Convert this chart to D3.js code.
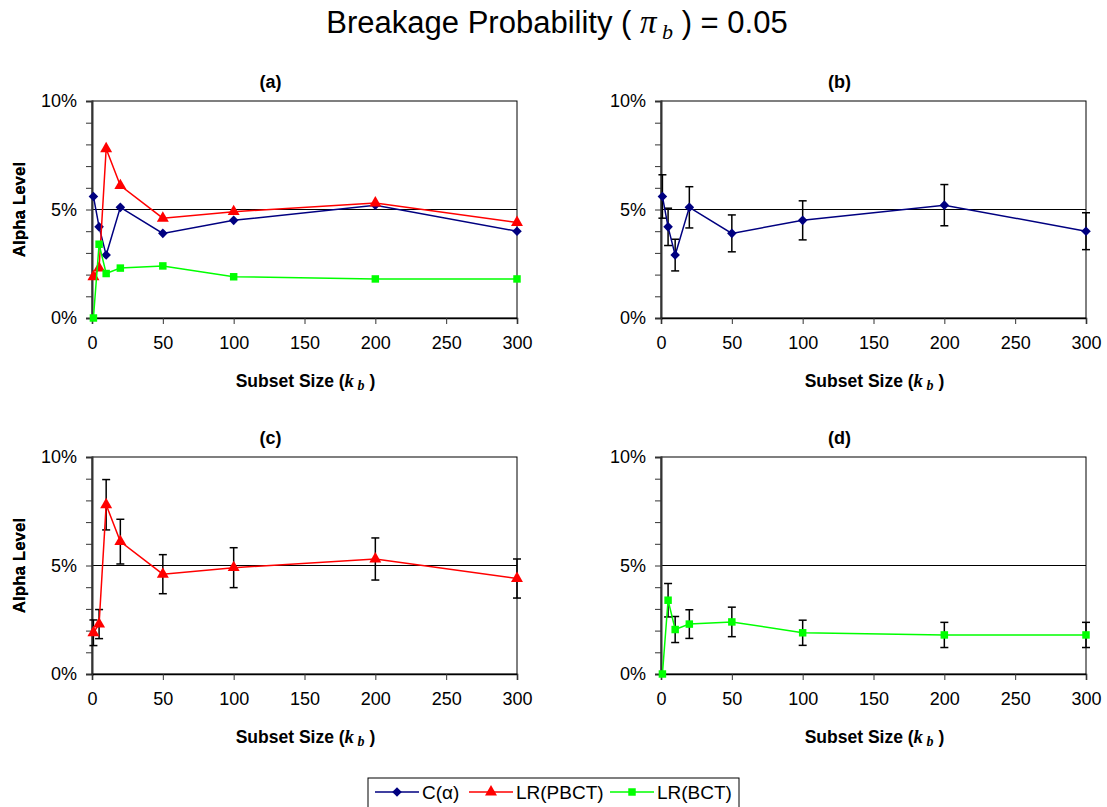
<!DOCTYPE html>
<html>
<head>
<meta charset="utf-8">
<script src="https://cdn.jsdelivr.net/npm/d3@7"></script>
<style>
  body { margin: 0; background: #fff; }
  text { font-family: "Liberation Sans", Arial, sans-serif; fill: #000; }
</style>
</head>
<body>
<div id="chart"></div>
<script>
// subset sizes (k_b)
const kValues = [1, 5, 10, 20, 50, 100, 200, 300];
// alpha level in percent
const cAlpha = [5.6, 4.2, 2.9, 5.1, 3.9, 4.5, 5.2, 4.0];
const lrPbct = [1.9, 2.3, 7.8, 6.1, 4.6, 4.9, 5.3, 4.4];
const lrBct = [0.0, 3.4, 2.05, 2.3, 2.4, 1.9, 1.8, 1.8];
// half-width of the error bars (percent)
const cAlphaErr = [1.0, 0.86, 0.73, 0.95, 0.85, 0.9, 0.95, 0.85];
const lrPbctErr = [0.59, 0.67, 1.16, 1.03, 0.9, 0.92, 0.97, 0.9];
const lrBctErr = [0, 0.77, 0.6, 0.66, 0.68, 0.58, 0.58, 0.58];

const xTicks = [0, 50, 100, 150, 200, 250, 300];
const yTicks = [0, 5, 10];

const ctx = { W: 1107, H: 807 };

const series = {
    c:   { name: "C(\u03b1)",  values: cAlpha, errs: cAlphaErr, color: "#000080", shape: "diamond" },
    pb:  { name: "LR(PBCT)", values: lrPbct, errs: lrPbctErr, color: "#ff0000", shape: "triangle" },
    bct: { name: "LR(BCT)",  values: lrBct,  errs: lrBctErr,  color: "#00ff00", shape: "square" }
};

const panels = [
    { label: "(a)", left: 92,  top: 101, keys: ["c", "pb", "bct"], errors: false },
    { label: "(b)", left: 661, top: 101, keys: ["c"], errors: true },
    { label: "(c)", left: 92,  top: 457, keys: ["pb"], errors: true },
    { label: "(d)", left: 661, top: 457, keys: ["bct"], errors: true }
];
const PW = 425, PH = 217;

function marker(shape){
    if (shape === "diamond") return d3.symbol().type(d3.symbolSquare).size(46)();
    if (shape === "triangle") return d3.symbol().type(d3.symbolTriangle).size(62)();
    return d3.symbol().type(d3.symbolSquare).size(56)();
}

function drawPanel(svg, p){
    const g = svg.append("g").attr("transform", `translate(${p.left},${p.top})`);
    const x = d3.scaleLinear().domain([0, 300]).range([0, PW]);
    const y = d3.scaleLinear().domain([0, 10]).range([PH, 0]);

    // plot frame
    g.append("rect").attr("width", PW).attr("height", PH)
     .attr("fill", "none").attr("stroke", "#000").attr("stroke-width", 1);

    // 5% reference line
    g.append("line").attr("x1", 0).attr("x2", PW)
     .attr("y1", y(5)).attr("y2", y(5))
     .attr("stroke", "#000").attr("stroke-width", 1);

    // y axis, minor ticks every 1%
    const yAxis = d3.axisLeft(y).tickValues(d3.range(0, 11)).tickSize(6).tickPadding(9)
                    .tickFormat(d => yTicks.includes(d) ? d + "%" : "");
    const ya = g.append("g").call(yAxis);
    ya.select(".domain").attr("stroke", "#333").attr("stroke-width", 2);
    ya.selectAll(".tick line").attr("stroke", "#333");
    ya.selectAll("text").attr("font-size", 18).attr("font-family", "Liberation Sans, Arial, sans-serif");

    // x axis
    const xAxis = d3.axisBottom(x).tickValues(xTicks).tickSize(6).tickPadding(12);
    const xa = g.append("g").attr("transform", `translate(0,${PH})`).call(xAxis);
    xa.select(".domain").attr("stroke", "#000").attr("stroke-width", 1.5);
    xa.selectAll(".tick line").attr("stroke", "#333");
    xa.selectAll("text").attr("font-size", 18).attr("font-family", "Liberation Sans, Arial, sans-serif");

    // panel title
    g.append("text").attr("x", PW / 2 - 34).attr("y", -13)
     .attr("text-anchor", "middle").attr("font-size", 18).attr("font-weight", "bold")
     .text(p.label);

    // y label
    g.append("text")
     .attr("transform", `translate(${-p.left + 25},${PH / 2}) rotate(-90)`)
     .attr("text-anchor", "middle").attr("font-size", 17).attr("font-weight", "bold")
     .text("Alpha Level");

    // x label
    const xl = g.append("text").attr("x", PW / 2 + 1).attr("y", PH + 69)
                .attr("text-anchor", "middle").attr("font-size", 17.5).attr("font-weight", "bold");
    xl.append("tspan").text("Subset Size (");
    xl.append("tspan").attr("font-family", "Liberation Serif, Times New Roman, serif")
      .attr("font-style", "italic").attr("font-size", 19).text("k");
    xl.append("tspan").attr("font-family", "Liberation Serif, Times New Roman, serif")
      .attr("font-style", "italic").attr("font-size", 14).attr("dy", 3).text(" b");
    xl.append("tspan").attr("dy", -3).text(" )");

    const line = d3.line().x((d, i) => x(kValues[i])).y(d => y(d));

    p.keys.forEach(key => {
        const s = series[key];
        if (p.errors) {
            const eg = g.append("g");
            s.values.forEach((v, i) => {
                const e = s.errs[i];
                if (!e) return;
                const cx = x(kValues[i]);
                eg.append("line").attr("x1", cx).attr("x2", cx)
                  .attr("y1", y(v - e)).attr("y2", y(v + e))
                  .attr("stroke", "#000").attr("stroke-width", 1.5);
                [v - e, v + e].forEach(t => {
                    eg.append("line").attr("x1", cx - 4).attr("x2", cx + 4)
                      .attr("y1", y(t)).attr("y2", y(t))
                      .attr("stroke", "#000").attr("stroke-width", 1.5);
                });
            });
        }
        g.append("path").datum(s.values).attr("d", line)
         .attr("fill", "none").attr("stroke", s.color).attr("stroke-width", 1.5);
        g.append("g").selectAll("path").data(s.values).enter().append("path")
         .attr("d", marker(s.shape))
         .attr("transform", (d, i) => `translate(${x(kValues[i])},${y(d)})` + (s.shape === "diamond" ? " rotate(45)" : ""))
         .attr("fill", s.color);
    });
}

function createViz(){
    const svg = d3.select("#chart").append("svg")
                  .attr("width", ctx.W).attr("height", ctx.H);

    // main title
    const t = svg.append("text").attr("x", 557).attr("y", 33)
                 .attr("text-anchor", "middle").attr("font-size", 31);
    t.append("tspan").text("Breakage Probability ( ");
    t.append("tspan").attr("font-family", "Liberation Serif, Times New Roman, serif")
     .attr("font-style", "italic").attr("font-size", 33).text("\u03c0");
    t.append("tspan").attr("font-family", "Liberation Serif, Times New Roman, serif")
     .attr("font-style", "italic").attr("font-size", 22).attr("dy", 6).text(" b");
    t.append("tspan").attr("dy", -6).text(" ) = 0.05");

    panels.forEach(p => drawPanel(svg, p));

    // legend
    const lg = svg.append("g").attr("transform", "translate(368,778)");
    lg.append("rect").attr("width", 371).attr("height", 40)
      .attr("fill", "#fff").attr("stroke", "#000").attr("stroke-width", 1);
    const items = [
        { key: "c",   x: 7 },
        { key: "pb",  x: 101 },
        { key: "bct", x: 242 }
    ];
    items.forEach(it => {
        const s = series[it.key];
        const ig = lg.append("g").attr("transform", `translate(${it.x},14)`);
        ig.append("line").attr("x1", 0).attr("x2", 44).attr("stroke", s.color).attr("stroke-width", 1.5);
        ig.append("path").attr("d", marker(s.shape))
          .attr("transform", "translate(22,0)" + (s.shape === "diamond" ? " rotate(45)" : ""))
          .attr("fill", s.color);
        ig.append("text").attr("x", 47).attr("y", 7).attr("font-size", 19).text(s.name);
    });
}

createViz();
</script>
</body>
</html>
